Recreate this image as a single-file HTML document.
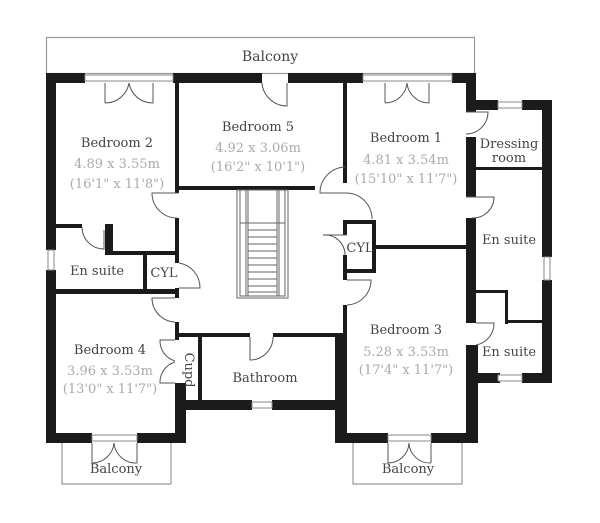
<!DOCTYPE html>
<html><head><meta charset="utf-8"><style>
html,body{margin:0;padding:0;background:#fff;}
svg{display:block}
text{font-family:"DejaVu Serif","Liberation Serif",serif;font-size:13px;fill:#444;text-anchor:middle}
.d{fill:#aaa}
</style></head><body>
<svg width="600" height="523" viewBox="0 0 600 523" xmlns="http://www.w3.org/2000/svg">
<g fill="none" stroke="#999" stroke-width="1.2">
<rect x="46.5" y="37.5" width="428" height="36"/>
<path d="M62 443V484H171V443"/>
<path d="M353 443V484H462V443"/>
</g>
<g fill="#1b1b1b">
<rect x="46" y="73" width="39" height="10"/>
<rect x="173" y="73" width="89" height="10"/>
<rect x="288" y="73" width="75" height="10"/>
<rect x="452" y="73" width="24" height="10"/>
<rect x="466" y="73" width="10" height="39"/>
<rect x="466" y="100" width="32" height="10"/>
<rect x="522" y="100" width="30" height="10"/>
<rect x="542" y="100" width="10" height="157"/>
<rect x="542" y="280" width="10" height="103"/>
<rect x="466" y="373" width="34" height="10"/>
<rect x="522" y="373" width="30" height="10"/>
<rect x="466" y="137" width="10" height="60"/>
<rect x="466" y="218" width="10" height="105"/>
<rect x="466" y="345" width="10" height="98"/>
<rect x="46" y="73" width="10" height="177"/>
<rect x="46" y="270" width="10" height="173"/>
<rect x="46" y="433" width="46" height="10"/>
<rect x="137" y="433" width="49" height="10"/>
<rect x="175" y="383" width="11" height="60"/>
<rect x="177" y="400" width="75" height="10"/>
<rect x="272" y="400" width="73" height="10"/>
<rect x="335" y="335" width="12" height="108"/>
<rect x="335" y="433" width="53" height="10"/>
<rect x="431" y="433" width="47" height="10"/>
<rect x="468" y="345" width="10" height="98"/>
<rect x="175" y="83" width="4" height="110"/>
<rect x="175" y="186" width="140" height="4"/>
<rect x="343" y="83" width="4" height="100"/>
<rect x="175" y="218" width="4" height="45"/>
<rect x="175" y="288" width="4" height="10"/>
<rect x="175" y="322" width="4" height="18"/>
<rect x="56" y="224" width="26" height="4"/>
<rect x="105" y="224" width="8" height="30"/>
<rect x="105" y="251" width="72" height="4"/>
<rect x="143" y="251" width="4" height="40"/>
<rect x="56" y="289" width="123" height="5"/>
<rect x="177" y="333" width="73" height="4"/>
<rect x="273" y="333" width="70" height="4"/>
<rect x="198" y="337" width="4" height="65"/>
<rect x="343" y="220" width="4" height="15"/>
<rect x="343" y="255" width="4" height="25"/>
<rect x="343" y="220" width="32" height="4"/>
<rect x="343" y="269" width="32" height="4"/>
<rect x="372" y="220" width="4" height="53"/>
<rect x="375" y="245" width="92" height="4"/>
<rect x="343" y="305" width="4" height="32"/>
<rect x="476" y="167" width="66" height="3"/>
<rect x="476" y="290" width="32" height="3"/>
<rect x="505" y="290" width="3" height="34"/>
<rect x="505" y="320" width="37" height="3"/>
</g>
<g fill="#fff" stroke="#888" stroke-width="1">
<rect x="85" y="75" width="88" height="6"/>
<rect x="363" y="75" width="89" height="6"/>
<rect x="498" y="102" width="24" height="6"/>
<rect x="498" y="375" width="24" height="6"/>
<rect x="544" y="257" width="6" height="23"/>
<rect x="48" y="250" width="6" height="20"/>
<rect x="92" y="435" width="45" height="6"/>
<rect x="388" y="435" width="43" height="6"/>
<rect x="252" y="402" width="20" height="6"/>
</g>
<g fill="none" stroke="#555" stroke-width="1">
<path d="M105 83V103M105 103A24 24 0 0 0 129 83"/>
<path d="M153 83V103M153 103A24 24 0 0 1 129 83"/>
<path d="M385 83V103M385 103A22 22 0 0 0 407 83"/>
<path d="M429 83V103M429 103A22 22 0 0 1 407 83"/>
<path d="M287 83V106A25 25 0 0 1 262 83"/>
<path d="M179 193H152A25 25 0 0 0 177 218"/>
<path d="M347 193H320A26 26 0 0 1 345 167"/>
<path d="M347 193A26 26 0 0 1 372 219"/>
<path d="M466 112H488A22 22 0 0 1 466 134"/>
<path d="M466 197H494A21 21 0 0 1 472 218"/>
<path d="M476 323H494A22 22 0 0 1 476 345"/>
<path d="M82 227A22 22 0 0 0 104 249V230"/>
<path d="M179 263A25 25 0 0 1 200 288H179"/>
<path d="M347 235H323A20 20 0 0 1 345 255"/>
<path d="M347 280H371A25 25 0 0 1 347 305"/>
<path d="M175 298H152A24 24 0 0 0 175 322"/>
<path d="M250 337V360A23 23 0 0 0 273 337"/>
<path d="M175 340H160A21 21 0 0 0 175 361"/>
<path d="M175 383H160A21 21 0 0 1 175 362"/>
<path d="M92 443V463M92 463A22 22 0 0 0 114 443M137 443V463M137 463A22 22 0 0 1 114 443"/>
<path d="M388 443V463M388 463A21 21 0 0 0 409 443M431 443V463M431 463A21 21 0 0 1 409 443"/>
</g>
<g fill="none" stroke="#666" stroke-width="1">
<rect x="237" y="190" width="51" height="108"/>
<rect x="240" y="190" width="45" height="106"/>
<line x1="246" y1="190" x2="246" y2="296"/><line x1="248" y1="190" x2="248" y2="296"/>
<line x1="277" y1="190" x2="277" y2="296"/><line x1="279" y1="190" x2="279" y2="296"/>
<line x1="240" y1="223" x2="285" y2="223"/>
<path d="M248 230H277M248 237H277M248 244H277M248 251H277M248 258H277M248 265H277M248 272H277M248 279H277M248 286H277M248 292H277"/>
</g>
<text x="270" y="61" style="font-size:14px">Balcony</text>
<text x="117" y="147">Bedroom 2</text>
<text x="117" y="168" class="d">4.89 x 3.55m</text>
<text x="117" y="188" class="d">(16'1" x 11'8")</text>
<text x="258" y="131">Bedroom 5</text>
<text x="258" y="152" class="d">4.92 x 3.06m</text>
<text x="258" y="171" class="d">(16'2" x 10'1")</text>
<text x="406" y="142">Bedroom 1</text>
<text x="406" y="164" class="d">4.81 x 3.54m</text>
<text x="406" y="183" class="d">(15'10" x 11'7")</text>
<text x="509" y="148">Dressing</text>
<text x="509" y="162">room</text>
<text x="509" y="244">En suite</text>
<text x="97" y="275">En suite</text>
<text x="164" y="277">CYL</text>
<text x="360" y="252">CYL</text>
<text x="110" y="354">Bedroom 4</text>
<text x="110" y="375" class="d">3.96 x 3.53m</text>
<text x="110" y="393" class="d">(13'0" x 11'7")</text>
<text x="265" y="382">Bathroom</text>
<text x="0" y="0" transform="translate(185 370) rotate(90)">Cupd</text>
<text x="406" y="334">Bedroom 3</text>
<text x="406" y="356" class="d">5.28 x 3.53m</text>
<text x="406" y="374" class="d">(17'4" x 11'7")</text>
<text x="509" y="356">En suite</text>
<text x="116" y="473">Balcony</text>
<text x="408" y="473">Balcony</text>
</svg>
</body></html>
